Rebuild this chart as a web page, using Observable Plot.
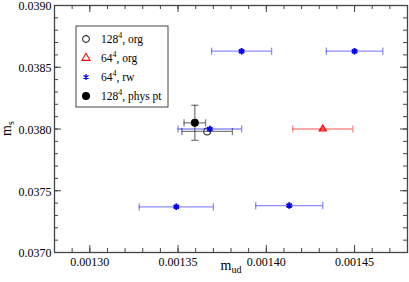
<!DOCTYPE html>
<html><head><meta charset="utf-8">
<script src="https://cdn.jsdelivr.net/npm/d3@7"></script>
<script src="https://cdn.jsdelivr.net/npm/@observablehq/plot@0.6"></script>
<style>
body{margin:0;background:#fff}
svg{font-family:"Liberation Serif","Times New Roman",serif}
</style>
</head><body><div id="chart"></div>
<script>
// 64^4, rw (blue stars)
const rwX    = [0.001386, 0.001450, 0.001368, 0.001349, 0.001413];
const rwXErr = [0.000017, 0.000016, 0.000018, 0.000021, 0.000019];
const rwY    = [0.03863, 0.03863, 0.03800, 0.03737, 0.03738];
// 64^4, org (red triangle)
const orgX    = [0.001432];
const orgXErr = [0.000017];
const orgY    = [0.03800];
// 128^4, org (open circle)
const o128X    = [0.0013665];
const o128XErr = [0.0000143];
const o128Y    = [0.03798];
// 128^4, phys pt (filled circle)
const physX    = [0.0013595];
const physXErr = [0.0000061];
const physY    = [0.03805];
const physYErr = [0.000142];

const xMajor = [0.00130, 0.00135, 0.00140, 0.00145];
const yMajor = [0.0370, 0.0375, 0.0380, 0.0385, 0.0390];
const xMinor = d3.range(0, 21).map(i => 0.00128 + i * 0.00001);
const yMinor = d3.range(0, 21).map(i => 0.0370 + i * 0.0001);

const legendLabels = [["128", ", org"], ["64", ", org"], ["64", ", rw"], ["128", ", phys pt"]];

const rw = rwX.map((x, i) => ({x, xe: rwXErr[i], y: rwY[i]}));
const org = orgX.map((x, i) => ({x, xe: orgXErr[i], y: orgY[i]}));
const o128 = o128X.map((x, i) => ({x, xe: o128XErr[i], y: o128Y[i]}));
const phys = physX.map((x, i) => ({x, xe: physXErr[i], y: physY[i], ye: physYErr[i]}));

const W = 409, H = 282, mL = 54, mR = 2, mT = 5, mB = 30;
const pw = W - mL - mR, ph = H - mT - mB;

const vcap = {draw(ctx, size) { const r = Math.sqrt(size / Math.PI); ctx.moveTo(0, -r); ctx.lineTo(0, r); }};
const hcap = {draw(ctx, size) { const r = Math.sqrt(size / Math.PI); ctx.moveTo(-r, 0); ctx.lineTo(r, 0); }};

function xbars(data, color, op) {
  return [
    Plot.ruleY(data, {y: "y", x1: d => d.x - d.xe, x2: d => d.x + d.xe, stroke: color, strokeOpacity: op, strokeWidth: 1.3}),
    Plot.dot(data, {x: d => d.x - d.xe, y: "y", symbol: vcap, r: 3.6, fill: "none", stroke: color, strokeOpacity: op, strokeWidth: 1.3}),
    Plot.dot(data, {x: d => d.x + d.xe, y: "y", symbol: vcap, r: 3.6, fill: "none", stroke: color, strokeOpacity: op, strokeWidth: 1.3})
  ];
}

const tickC = "#444";
const plot = Plot.plot({
  width: W, height: H,
  marginLeft: mL, marginRight: mR, marginTop: mT, marginBottom: mB,
  style: {fontFamily: "'Liberation Serif', serif", fontSize: "12px", background: "#fff", color: "#000"},
  x: {domain: [0.00128, 0.00148]},
  y: {domain: [0.0370, 0.0390]},
  marks: [
    // minor ticks
    Plot.tickX(xMinor, {x: d => d, insetTop: ph - 4, stroke: tickC}),
    Plot.tickX(xMinor, {x: d => d, insetBottom: ph - 4, stroke: tickC}),
    Plot.tickY(yMinor, {y: d => d, insetRight: pw - 4, stroke: tickC}),
    Plot.tickY(yMinor, {y: d => d, insetLeft: pw - 4, stroke: tickC}),
    // major ticks
    Plot.tickX(xMajor, {x: d => d, insetTop: ph - 7, stroke: tickC}),
    Plot.tickX(xMajor, {x: d => d, insetBottom: ph - 7, stroke: tickC}),
    Plot.tickY(yMajor, {y: d => d, insetRight: pw - 7, stroke: tickC}),
    Plot.tickY(yMajor, {y: d => d, insetLeft: pw - 7, stroke: tickC}),
    Plot.axisX({ticks: xMajor, tickSize: 0, tickPadding: 5, tickFormat: d3.format(".5f"), label: null}),
    Plot.axisY({ticks: yMajor, tickSize: 0, tickPadding: 3, dy: 1, tickFormat: d3.format(".4f"), label: null}),
    // error bars
    ...xbars(o128, "#000", 0.5),
    ...xbars(org, "#ff0000", 0.45),
    ...xbars(rw, "#0000ff", 0.45),
    ...xbars(phys, "#000", 0.5),
    Plot.ruleX(phys, {x: "x", y1: d => d.y - d.ye, y2: d => d.y + d.ye, stroke: "#000", strokeOpacity: 0.5, strokeWidth: 1.3}),
    Plot.dot(phys, {x: "x", y: d => d.y - d.ye, symbol: hcap, r: 3.6, fill: "none", stroke: "#000", strokeOpacity: 0.5, strokeWidth: 1.3}),
    Plot.dot(phys, {x: "x", y: d => d.y + d.ye, symbol: hcap, r: 3.6, fill: "none", stroke: "#000", strokeOpacity: 0.5, strokeWidth: 1.3}),
    // markers
    Plot.dot(o128, {x: "x", y: "y", r: 3.4, fill: "none", stroke: "#333", strokeWidth: 1.1}),
    Plot.dot(org, {x: "x", y: "y", symbol: "triangle", r: 2.6, fill: "#ff3030", fillOpacity: 0.7, stroke: "#ff0000", strokeWidth: 1.2}),
    Plot.dot(rw, {x: "x", y: "y", symbol: "asterisk", r: 3, stroke: "#0000ee", strokeWidth: 2}),
    Plot.dot(phys, {x: "x", y: "y", r: 4, fill: "#000", stroke: "none"}),
    Plot.frame({stroke: "#444", strokeWidth: 1.3})
  ]
});
document.getElementById("chart").appendChild(plot);

const svg = d3.select(plot);
// axis labels
const xl = svg.append("text").attr("x", 231).attr("y", 270).attr("text-anchor", "middle").attr("font-size", 14).attr("fill", "#000");
xl.append("tspan").text("m");
xl.append("tspan").attr("font-size", 10).attr("dy", 3).text("ud");
const yl = svg.append("text").attr("transform", "translate(11,128.5) rotate(-90)").attr("text-anchor", "middle").attr("font-size", 14).attr("fill", "#000");
yl.append("tspan").text("m");
yl.append("tspan").attr("font-size", 10).attr("dy", 3).text("s");

// legend
const lg = svg.append("g");
lg.append("rect").attr("x", 76).attr("y", 26).attr("width", 92).attr("height", 81)
  .attr("fill", "#fff").attr("stroke", "#444").attr("stroke-width", 1);
const rows = [39, 58, 77, 96];
const sym = (t, r) => d3.symbol(t, Math.PI * r * r)();
lg.append("path").attr("d", sym(d3.symbolCircle, 3.4)).attr("transform", `translate(86,${rows[0]})`).attr("fill", "none").attr("stroke", "#333").attr("stroke-width", 1.1);
lg.append("path").attr("d", sym(d3.symbolTriangle, 3)).attr("transform", `translate(86,${rows[1]})`).attr("fill", "none").attr("stroke", "#ff0000").attr("stroke-width", 1.1);
lg.append("path").attr("d", sym(d3.symbolAsterisk, 2.8)).attr("transform", `translate(86,${rows[2]})`).attr("fill", "none").attr("stroke", "#0000ee").attr("stroke-width", 1.2);
lg.append("path").attr("d", sym(d3.symbolCircle, 4)).attr("transform", `translate(86,${rows[3]})`).attr("fill", "#000");
legendLabels.forEach(([a, b], i) => {
  const t = lg.append("text").attr("x", 101).attr("y", rows[i] + 4).attr("text-anchor", "start").attr("font-size", 11.5).attr("fill", "#000");
  t.append("tspan").text(a);
  t.append("tspan").attr("font-size", 8).attr("dy", -5.5).text("4");
  t.append("tspan").attr("dy", 5.5).text(b);
});
</script>
</body></html>
